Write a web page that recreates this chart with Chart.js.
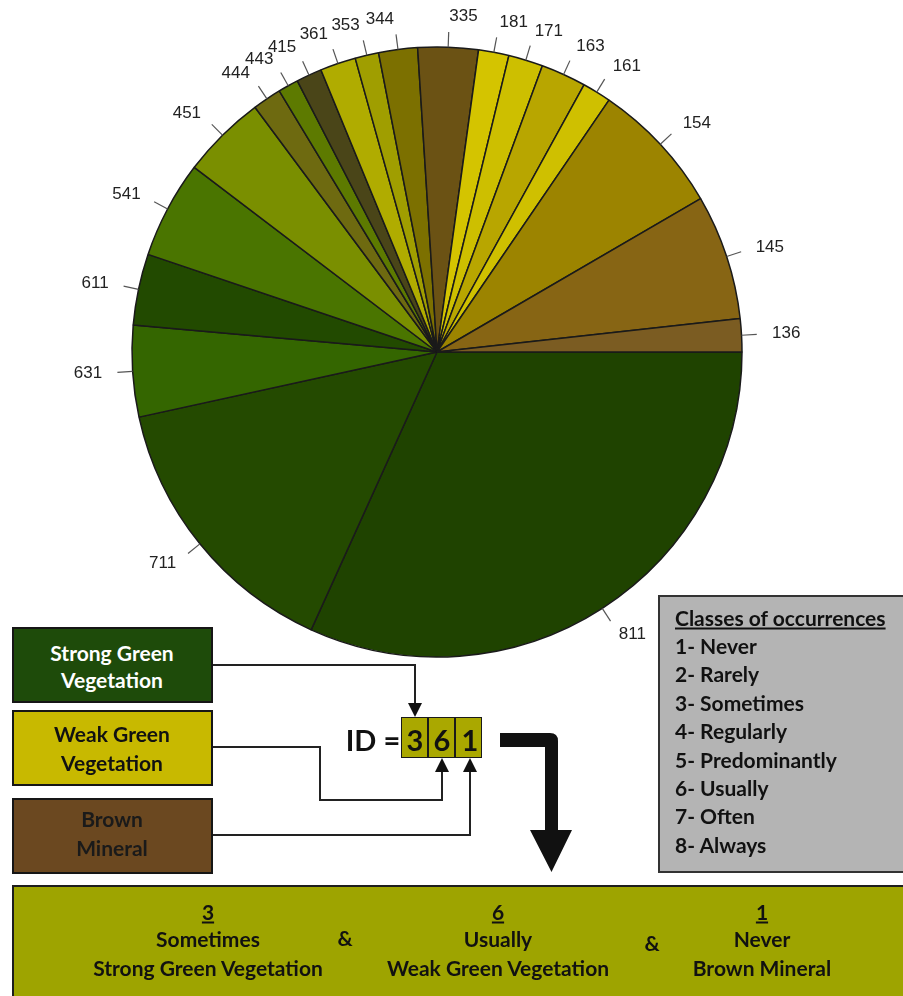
<!DOCTYPE html>
<html>
<head>
<meta charset="utf-8">
<script src="https://cdn.jsdelivr.net/npm/chart.js@4"></script>
<style>
  html, body { margin: 0; padding: 0; background: #fff; }
  #page { position: relative; width: 903px; height: 996px; overflow: hidden; font-family: Lato, "Open Sans", sans-serif; }
  #pieWrap { position: absolute; left: 0; top: 0; width: 874px; height: 704px; }
  .box { position: absolute; left: 12px; width: 197px; height: 72px; border: 2px solid #161616; }
  .t { position: absolute; transform: translate(-50%, -50%); white-space: nowrap; font-weight: bold; }
  .l { position: absolute; transform: translateY(-50%); white-space: nowrap; font-weight: bold; font-size: 21px; color: #111; }
  #legendBox { position: absolute; left: 658px; top: 595px; width: 260px; height: 274px; background: #b4b4b4; border: 2px solid #333; }
  #banner { position: absolute; left: 12px; top: 885px; width: 910px; height: 130px; background: #9ea400; border: 2px solid #1d1d1d; }
  .cell { position: absolute; top: 717px; width: 25px; height: 39px; background: #aaa800; border: 1.5px solid #1a1a1a; }
  svg { position: absolute; left: 0; top: 0; }
</style>
</head>
<body>
<div id="page">
  <div id="pieWrap"><canvas id="pieChart"></canvas></div>

  <div class="box" style="top:627px;background:#1e4b0a;"></div>
  <div class="box" style="top:710px;background:#c8b900;"></div>
  <div class="box" style="top:798px;background:#6b4820;"></div>
  <div class="t" style="left:112px;top:652px;font-size:21px;color:#fff;">Strong Green</div>
  <div class="t" style="left:112px;top:679px;font-size:21px;color:#fff;">Vegetation</div>
  <div class="t" style="left:112px;top:733px;font-size:21px;color:#111;">Weak Green</div>
  <div class="t" style="left:112px;top:762px;font-size:21px;color:#111;">Vegetation</div>
  <div class="t" style="left:112px;top:818px;font-size:21px;color:#1a1a1a;">Brown</div>
  <div class="t" style="left:112px;top:847px;font-size:21px;color:#1a1a1a;">Mineral</div>

  <svg width="903" height="996">
    <g stroke="#222" stroke-width="2" fill="none">
      <path d="M213 665 H415 V704"/>
      <path d="M213 747 H320 V800 H442 V772"/>
      <path d="M213 835 H470 V772"/>
    </g>
    <g fill="#111">
      <path d="M408 703 H422 L415 717 Z"/>
      <path d="M435 772 H449 L442 758 Z"/>
      <path d="M463 772 H477 L470 758 Z"/>
      <path d="M500 733 H550 Q558 733 558 741 V830 H572 L551.5 872 L530 830 H545 V747 H500 Z"/>
    </g>
  </svg>

  <div class="t" style="left:373px;top:739px;font-size:29px;color:#111;">ID =</div>
  <div class="cell" style="left:401px;"></div>
  <div class="cell" style="left:428px;"></div>
  <div class="cell" style="left:455px;"></div>
  <div class="t" style="left:415px;top:739px;font-size:29px;color:#111;">3</div>
  <div class="t" style="left:442px;top:739px;font-size:29px;color:#111;">6</div>
  <div class="t" style="left:470px;top:739px;font-size:29px;color:#111;">1</div>

  <div id="legendBox"></div>
  <div id="legendText"></div>

  <div id="banner"></div>
  <div id="bannerText"></div>
</div>

<script>
// pie slices, listed counterclockwise from 3 o'clock as in the original figure
const classIds = ["136", "145", "154", "161", "163", "171", "181", "335", "344", "353",
  "361", "415", "443", "444", "451", "541", "611", "631", "711", "811"];
const sharePct = [1.75, 6.64, 7.08, 1.53, 2.39, 1.83, 1.61, 3.19, 2.06, 1.25,
  1.89, 1.36, 1.08, 1.53, 4.47, 5.17, 3.78, 4.83, 14.81, 31.78];
const sliceColours = ["#7b5c22", "#876514", "#9c8400", "#cfc000", "#b8a600", "#cdbf00", "#d4c400", "#6b5214", "#7c7000", "#a09e00",
  "#b0ac00", "#4a4518", "#5d7a00", "#6e6a10", "#7a8f00", "#4a7500", "#224a00", "#346600", "#244a00", "#1f4300"];

const occurrenceClasses = ["1- Never", "2- Rarely", "3- Sometimes", "4- Regularly",
  "5- Predominantly", "6- Usually", "7- Often", "8- Always"];

const idDigits = ["3", "6", "1"];
const idMeaning = ["Sometimes", "Usually", "Never"];
const idComponent = ["Strong Green Vegetation", "Weak Green Vegetation", "Brown Mineral"];

// legend box text
const legendText = document.getElementById("legendText");
let html = '<div class="l" style="left:675px;top:617px;text-decoration:underline;">Classes of occurrences</div>';
occurrenceClasses.forEach((txt, i) => {
  html += '<div class="l" style="left:675px;top:' + (645 + i * 28.4) + 'px;">' + txt + '</div>';
});
legendText.innerHTML = html;

// bottom banner
const colX = [208, 498, 762];
let bHtml = "";
idDigits.forEach((d, i) => {
  bHtml += '<div class="t" style="left:' + colX[i] + 'px;top:911px;font-size:21px;color:#111;text-decoration:underline;">' + d + '</div>';
  bHtml += '<div class="t" style="left:' + colX[i] + 'px;top:938px;font-size:21px;color:#111;">' + idMeaning[i] + '</div>';
  bHtml += '<div class="t" style="left:' + colX[i] + 'px;top:967px;font-size:21px;color:#111;">' + idComponent[i] + '</div>';
});
bHtml += '<div class="t" style="left:345px;top:937px;font-size:21px;color:#111;">&amp;</div>';
bHtml += '<div class="t" style="left:652px;top:942px;font-size:21px;color:#111;">&amp;</div>';
document.getElementById("bannerText").innerHTML = bHtml;

// R-style labels: short tick outside each slice, number at 1.1 x radius
const sliceLabels = {
  id: "sliceLabels",
  afterDatasetsDraw(chart) {
    const ctx = chart.ctx;
    const meta = chart.getDatasetMeta(0);
    const labels = chart.data.labels;
    ctx.save();
    ctx.font = "17px 'Liberation Sans', Arial, sans-serif";
    ctx.fillStyle = "#222";
    ctx.strokeStyle = "#555";
    ctx.lineWidth = 1.2;
    ctx.textBaseline = "middle";
    meta.data.forEach((arc, i) => {
      const mid = (arc.startAngle + arc.endAngle) / 2;
      const r = arc.outerRadius;
      const c = Math.cos(mid), s = Math.sin(mid);
      ctx.beginPath();
      ctx.moveTo(arc.x + c * r, arc.y + s * r);
      ctx.lineTo(arc.x + c * r * 1.05, arc.y + s * r * 1.05);
      ctx.stroke();
      ctx.textAlign = c >= 0 ? "left" : "right";
      ctx.fillText(labels[i], arc.x + c * r * 1.1, arc.y + s * r * 1.1);
    });
    ctx.restore();
  }
};

// Chart.js goes clockwise, so reverse to get the counterclockwise order
const ctx = document.getElementById("pieChart").getContext("2d");
new Chart(ctx, {
  type: "pie",
  data: {
    labels: classIds.slice().reverse(),
    datasets: [{
      data: sharePct.slice().reverse(),
      backgroundColor: sliceColours.slice().reverse(),
      borderColor: "#1a1a1a",
      borderWidth: 1.5,
    }],
  },
  options: {
    responsive: true,
    maintainAspectRatio: false,
    animation: false,
    rotation: 90,
    radius: 305,
    plugins: {
      legend: { display: false },
      tooltip: { enabled: false },
    },
  },
  plugins: [sliceLabels],
});
</script>
</body>
</html>
